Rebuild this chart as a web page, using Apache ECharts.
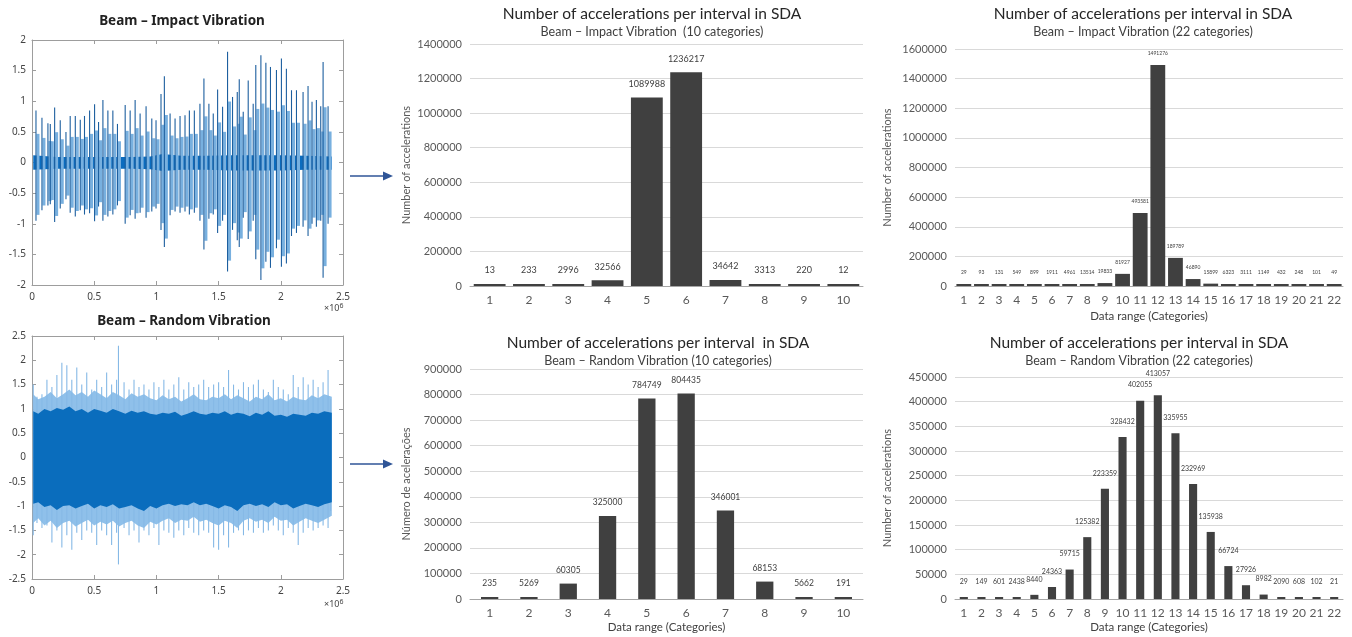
<!DOCTYPE html>
<html>
<head>
<meta charset="utf-8">
<script src="https://cdn.jsdelivr.net/npm/echarts@6/dist/echarts.min.js"></script>
<style>
  html, body { margin: 0; padding: 0; background: #ffffff; }
  #chart { width: 1352px; height: 637px; }
</style>
</head>
<body>
<div id="chart"></div>
<script>
// ---------- histogram data ----------
const cat10 = ['1', '2', '3', '4', '5', '6', '7', '8', '9', '10'];
const cat22 = ['1', '2', '3', '4', '5', '6', '7', '8', '9', '10', '11', '12', '13', '14', '15', '16', '17', '18', '19', '20', '21', '22'];
const impact10 = [13, 233, 2996, 32566, 1089988, 1236217, 34642, 3313, 220, 12];
const random10 = [235, 5269, 60305, 325000, 784749, 804435, 346001, 68153, 5662, 191];
const impact22 = [29, 93, 131, 549, 899, 1911, 4961, 13514, 19833, 81927, 493581, 1491276, 189789, 46890, 15899, 6323, 3111, 1149, 432, 248, 101, 49];
const random22 = [29, 149, 601, 2438, 8440, 24363, 59715, 125382, 223359, 328432, 402055, 413057, 335955, 232969, 135938, 66724, 27926, 8982, 2090, 608, 102, 21];

// ---------- signal tick labels ----------
const timeTicks = [0, 0.5, 1, 1.5, 2, 2.5];

// ---------- impact vibration signal (samples x 10^6, acceleration) ----------
// impact instants with the positive and negative extremes of each hit
const impactT = [0.032, 0.080, 0.128, 0.147, 0.182, 0.227, 0.273, 0.307, 0.348, 0.388, 0.422, 0.463, 0.503, 0.535, 0.570, 0.610,
  0.650, 0.687, 0.749, 0.789, 0.829, 0.869, 0.917, 0.963, 0.997, 1.037, 1.064, 1.110, 1.150, 1.190, 1.230, 1.265, 1.305, 1.350,
  1.382, 1.422, 1.457, 1.492, 1.532, 1.572, 1.612, 1.650, 1.666, 1.698, 1.738, 1.778, 1.799, 1.840, 1.880, 1.917, 1.965, 2.005,
  2.045, 2.086, 2.126, 2.179, 2.219, 2.251, 2.286, 2.321, 2.340, 2.380];
const impactHi = [0.85, 0.73, 0.64, 0.63, 0.90, 0.69, 0.50, 0.76, 0.76, 0.70, 0.76, 0.85, 0.95, 0.66, 1.02, 0.85,
  0.85, 0.63, 0.94, 0.85, 1.02, 0.80, 0.92, 0.72, 0.69, 1.12, 1.41, 0.80, 0.72, 0.76, 0.77, 0.85, 0.85, 0.96,
  1.37, 0.96, 0.80, 1.19, 0.91, 1.81, 1.07, 1.15, 1.36, 0.83, 1.34, 0.96, 1.59, 1.75, 1.63, 1.56, 1.51, 1.70,
  1.53, 1.18, 1.18, 1.15, 1.25, 0.99, 1.02, 0.92, 1.64, 0.92];
const impactLo = [-0.95, -0.78, -0.70, -0.68, -0.97, -0.75, -0.60, -0.82, -0.88, -0.78, -0.85, -0.83, -0.96, -0.72, -0.95, -0.88,
  -0.85, -0.70, -1.00, -0.86, -0.92, -0.82, -0.90, -0.80, -0.75, -1.10, -1.38, -0.86, -0.80, -0.82, -0.80, -0.85, -0.82, -0.95,
  -1.42, -0.92, -0.85, -1.15, -0.95, -1.78, -1.10, -1.27, -1.38, -0.90, -1.25, -0.95, -1.58, -1.92, -1.62, -1.72, -1.40, -1.70,
  -1.65, -1.20, -1.15, -1.05, -1.20, -1.00, -1.05, -0.95, -1.88, -1.00];
// background vibration band around zero
const impactBandT = [0.01, 0.2, 0.4, 0.6, 0.8, 0.95, 1.05, 1.2, 1.4, 1.6, 1.8, 2.0, 2.2, 2.41];
const impactBandHi = [0.12, 0.09, 0.09, 0.09, 0.09, 0.10, 0.14, 0.11, 0.11, 0.12, 0.12, 0.12, 0.11, 0.10];
const impactBandLo = [-0.12, -0.10, -0.10, -0.10, -0.10, -0.11, -0.14, -0.12, -0.12, -0.13, -0.13, -0.13, -0.12, -0.12];

// ---------- random vibration signal ----------
const randBandT = [0.01, 0.05, 0.10, 0.15, 0.20, 0.25, 0.30, 0.35, 0.40, 0.45, 0.50, 0.55, 0.60, 0.65, 0.70, 0.75, 0.80, 0.85,
  0.90, 0.95, 1.00, 1.05, 1.10, 1.15, 1.20, 1.25, 1.30, 1.35, 1.40, 1.45, 1.50, 1.55, 1.60, 1.65, 1.70, 1.75, 1.80, 1.85, 1.90,
  1.95, 2.00, 2.05, 2.10, 2.15, 2.20, 2.25, 2.30, 2.35, 2.41];
const randOuterHi = [1.30, 1.20, 1.25, 1.35, 1.22, 1.30, 1.40, 1.28, 1.35, 1.25, 1.38, 1.30, 1.22, 1.35, 1.28, 1.20, 1.32, 1.25,
  1.30, 1.22, 1.18, 1.28, 1.20, 1.25, 1.15, 1.22, 1.30, 1.20, 1.18, 1.25, 1.22, 1.30, 1.20, 1.28, 1.22, 1.15, 1.25, 1.20, 1.30,
  1.18, 1.22, 1.15, 1.25, 1.20, 1.18, 1.28, 1.22, 1.30, 1.25];
const randOuterLo = [-1.35, -1.25, -1.40, -1.30, -1.45, -1.35, -1.30, -1.42, -1.35, -1.28, -1.40, -1.32, -1.38, -1.30, -1.42, -1.35, -1.30, -1.40,
  -1.45, -1.32, -1.38, -1.30, -1.25, -1.35, -1.28, -1.30, -1.22, -1.32, -1.28, -1.35, -1.40, -1.30, -1.35, -1.45, -1.30, -1.25, -1.32, -1.28, -1.35,
  -1.22, -1.30, -1.28, -1.40, -1.32, -1.25, -1.30, -1.35, -1.28, -1.20];
const randCoreHi = [0.95, 0.90, 1.00, 0.95, 1.02, 0.98, 1.05, 0.95, 1.00, 0.92, 1.00, 0.96, 0.92, 1.00, 0.95, 0.90, 0.96, 0.92,
  0.95, 0.90, 0.88, 0.92, 0.90, 0.94, 0.86, 0.90, 0.95, 0.90, 0.88, 0.92, 0.90, 0.95, 0.88, 0.92, 0.90, 0.85, 0.92, 0.88, 0.95,
  0.86, 0.88, 0.84, 0.90, 0.88, 0.86, 0.92, 0.90, 0.95, 0.92];
const randCoreLo = [-0.95, -0.92, -1.02, -0.98, -1.08, -1.00, -0.98, -1.05, -1.00, -0.95, -1.05, -0.98, -1.02, -0.96, -1.05, -1.02, -0.98, -1.05,
  -1.10, -1.00, -1.05, -0.98, -0.95, -1.00, -0.96, -0.98, -0.92, -0.98, -0.95, -1.00, -1.05, -0.98, -1.02, -1.10, -0.98, -0.95, -1.00, -0.96, -1.02,
  -0.92, -0.98, -0.96, -1.05, -1.00, -0.95, -0.98, -1.02, -0.96, -0.92];
// occasional large excursions
const randPeakT = [0.01, 0.04, 0.08, 0.12, 0.16, 0.20, 0.24, 0.28, 0.32, 0.36, 0.40, 0.44, 0.48, 0.52, 0.56, 0.60, 0.64, 0.68, 0.695,
  0.74, 0.78, 0.82, 0.86, 0.90, 0.94, 0.98, 1.02, 1.06, 1.10, 1.14, 1.18, 1.22, 1.26, 1.30, 1.34, 1.38, 1.42, 1.46, 1.50, 1.54,
  1.58, 1.62, 1.66, 1.70, 1.74, 1.78, 1.82, 1.86, 1.90, 1.94, 1.98, 2.02, 2.06, 2.10, 2.14, 2.18, 2.22, 2.26, 2.30, 2.34, 2.38, 2.40];
const randPeakHi = [1.50, 1.25, 1.30, 1.60, 1.45, 1.70, 1.95, 1.90, 1.60, 1.85, 1.50, 1.75, 1.40, 1.60, 1.45, 1.75, 1.50, 1.60, 2.30,
  1.55, 1.40, 1.60, 1.45, 1.50, 1.40, 1.55, 1.45, 1.60, 1.40, 1.50, 1.65, 1.40, 1.55, 1.45, 1.50, 1.60, 1.45, 1.50, 1.55, 1.45,
  1.80, 1.50, 1.40, 1.55, 1.45, 1.50, 1.60, 1.40, 1.35, 1.60, 1.45, 1.40, 1.30, 1.70, 1.45, 1.65, 1.50, 1.60, 1.45, 1.55, 1.80, 1.20];
const randPeakLo = [-1.60, -1.35, -1.45, -1.40, -1.75, -1.50, -1.85, -1.60, -1.90, -1.55, -1.70, -1.50, -1.55, -1.80, -1.50, -1.60, -1.80, -1.55, -2.20,
  -1.45, -1.60, -1.50, -1.75, -1.50, -1.60, -1.45, -1.80, -1.50, -1.55, -1.65, -1.50, -1.60, -1.45, -1.55, -1.60, -1.50, -1.55, -1.85, -1.90, -1.60,
  -1.85, -1.55, -1.50, -1.60, -1.50, -1.55, -1.45, -1.55, -1.50, -1.40, -1.50, -1.60, -1.45, -1.55, -1.80, -1.55, -1.45, -1.50, -1.45, -1.40, -1.45, -1.10];

// ---------- styling helpers ----------
const FONT = 'Lato, "Noto Sans", sans-serif';
const SIG_FONT = '"Noto Sans", "DejaVu Sans", sans-serif';
const BAR_COLOR = '#404040';
const GRID_COLOR = '#d9d9d9';
const TXT = '#595959';
const FRAME = '#9d9d9d';

function sigXAxis(gi, pos) {
  const bottom = pos === 'bottom';
  return {
    type: 'value', gridIndex: gi, position: pos, min: 0, max: 2.5, interval: 0.5,
    axisLine: { show: true, onZero: false, lineStyle: { color: FRAME } },
    axisTick: { show: true, inside: true, length: 4, lineStyle: { color: FRAME } },
    axisLabel: {
      show: bottom, color: '#444', fontSize: 10, margin: 7, fontFamily: SIG_FONT,
      customValues: timeTicks, formatter: v => String(v)
    },
    splitLine: { show: false }
  };
}
function sigYAxis(gi, pos, lim) {
  const left = pos === 'left';
  return {
    type: 'value', gridIndex: gi, position: pos, min: -lim, max: lim, interval: 0.5,
    axisLine: { show: true, onZero: false, lineStyle: { color: FRAME } },
    axisTick: { show: true, inside: true, length: 4, lineStyle: { color: FRAME } },
    axisLabel: { show: left, color: '#444', fontSize: 10, margin: 6, fontFamily: SIG_FONT, formatter: v => String(v) },
    splitLine: { show: false }
  };
}
function catAxis(gi, data, name, nameGap) {
  return {
    type: 'category', gridIndex: gi, data: data,
    axisTick: { show: false },
    axisLine: { show: true, lineStyle: { color: '#a6a6a6' } },
    axisLabel: { color: TXT, fontSize: 12, margin: 8, fontFamily: FONT, interval: 0 },
    name: name || '', nameLocation: 'middle', nameGap: nameGap || 26,
    nameTextStyle: { color: '#404040', fontSize: 11.5, fontFamily: FONT }
  };
}
function valAxis(gi, max, interval, name, nameGap) {
  return {
    type: 'value', gridIndex: gi, min: 0, max: max, interval: interval,
    axisLine: { show: false }, axisTick: { show: false },
    axisLabel: { color: TXT, fontSize: 11, margin: 8, fontFamily: FONT, formatter: v => String(v) },
    splitLine: { show: true, lineStyle: { color: GRID_COLOR, width: 1 } },
    name: name, nameLocation: 'middle', nameGap: nameGap, nameRotate: 90,
    nameTextStyle: { color: TXT, fontSize: 11, fontFamily: FONT }
  };
}
function barSeries(xi, values, barWidth, labelSize, labelDist, raised) {
  const data = values.map((v, i) => (raised && raised[i]) ? { value: v, label: { distance: labelDist + raised[i] } } : v);
  return {
    type: 'bar', xAxisIndex: xi, yAxisIndex: xi, data: data, barWidth: barWidth, barMinHeight: 2,
    itemStyle: { color: BAR_COLOR },
    label: { show: true, position: 'top', distance: labelDist, fontSize: labelSize, color: '#404040', fontFamily: FONT },
    silent: true, animation: false
  };
}
// filled band between an upper and a lower envelope
function bandSeries(ai, T, hi, lo, color, z) {
  return {
    type: 'custom', xAxisIndex: ai, yAxisIndex: ai, data: [[T[0], hi[0]]], silent: true, z: z, animation: false,
    renderItem: (params, api) => {
      const pts = [];
      for (let i = 0; i < T.length; i++) pts.push(api.coord([T[i], hi[i]]));
      for (let i = T.length - 1; i >= 0; i--) pts.push(api.coord([T[i], lo[i]]));
      return { type: 'polygon', shape: { points: pts }, style: { fill: color } };
    }
  };
}
// vertical excursions (one per row: time, max, min)
function spikeSeries(ai, T, hi, lo, stroke, width, tail, z) {
  return {
    type: 'custom', xAxisIndex: ai, yAxisIndex: ai, silent: true, z: z, animation: false,
    data: T.map((t, i) => [t, hi[i], lo[i]]),
    encode: { x: 0, y: [1, 2] },
    renderItem: (params, api) => {
      const t = api.value(0);
      const a = api.coord([t, api.value(1)]);
      const b = api.coord([t, api.value(2)]);
      const children = [];
      if (tail) {
        const zero = api.coord([t, 0]);
        const y1 = zero[1] - (zero[1] - a[1]) * 0.55;
        const y2 = zero[1] + (b[1] - zero[1]) * 0.9;
        children.push({ type: 'rect', shape: { x: a[0] + 0.5, y: y1, width: 3, height: y2 - y1 }, style: { fill: tail } });
      }
      children.push({ type: 'line', shape: { x1: a[0], y1: a[1], x2: b[0], y2: b[1] }, style: { stroke: stroke, lineWidth: width } });
      return { type: 'group', children: children };
    }
  };
}

// ---------- layout ----------
const grids = [
  { left: 32, top: 40, width: 311, height: 245 },   // 0 impact signal
  { left: 32, top: 336, width: 311, height: 243 },  // 1 random signal
  { left: 470, top: 44, width: 393, height: 242 },  // 2 impact 10
  { left: 470, top: 369, width: 393, height: 230 }, // 3 random 10
  { left: 955, top: 49, width: 388, height: 237 },  // 4 impact 22
  { left: 955, top: 377, width: 388, height: 222 }  // 5 random 22
].map(g => Object.assign({ containLabel: false }, g));

// signal grids carry four axes each (bottom/top, left/right) for the framed box
const xAxes = [
  sigXAxis(0, 'bottom'), sigXAxis(1, 'bottom'),
  catAxis(2, cat10), catAxis(3, cat10, 'Data range (Categories)', 22),
  catAxis(4, cat22, 'Data range (Categories)', 24), catAxis(5, cat22, 'Data range (Categories)', 22),
  sigXAxis(0, 'top'), sigXAxis(1, 'top')
];
const yAxes = [
  sigYAxis(0, 'left', 2), sigYAxis(1, 'left', 2.5),
  valAxis(2, 1400000, 200000, 'Number of accelerations', 58),
  valAxis(3, 900000, 100000, 'Número de acelerações', 58),
  valAxis(4, 1600000, 200000, 'Number of accelerations', 62),
  valAxis(5, 450000, 50000, 'Number of accelerations', 62),
  sigYAxis(0, 'right', 2), sigYAxis(1, 'right', 2.5)
];

function chartTitle(text, sub, cx, top) {
  return {
    text: text, subtext: sub, left: cx, top: top, textAlign: 'center', itemGap: 3, padding: 0,
    textStyle: { fontSize: 15.5, fontWeight: 'normal', color: '#262626', fontFamily: FONT },
    subtextStyle: { fontSize: 12.5, color: '#404040', fontFamily: FONT }
  };
}
const titles = [
  { text: 'Beam – Impact Vibration', left: 182, top: 14, textAlign: 'center', padding: 0,
    textStyle: { fontSize: 13.5, fontWeight: 'bold', color: '#222', fontFamily: SIG_FONT } },
  { text: 'Beam – Random Vibration', left: 184, top: 314, textAlign: 'center', padding: 0,
    textStyle: { fontSize: 13.5, fontWeight: 'bold', color: '#222', fontFamily: SIG_FONT } },
  chartTitle('Number of accelerations per interval in SDA', 'Beam – Impact Vibration  (10 categories)', 652, 6),
  chartTitle('Number of accelerations per interval  in SDA', 'Beam – Random Vibration (10 categories)', 658, 335),
  chartTitle('Number of accelerations per interval in SDA', 'Beam – Impact Vibration (22 categories)', 1143, 6),
  chartTitle('Number of accelerations per interval in SDA', 'Beam – Random Vibration (22 categories)', 1139, 335)
];

function arrow(y) {
  return [
    { type: 'line', shape: { x1: 350, y1: y, x2: 384, y2: y }, style: { stroke: '#2f5597', lineWidth: 1.6 } },
    { type: 'polygon', shape: { points: [[393, y], [383, y - 4.5], [383, y + 4.5]] }, style: { fill: '#2f5597' } }
  ];
}
function exponent(x, y) {
  return {
    type: 'text', x: x, y: y,
    style: {
      text: '{b|×10}{s|6}', fill: '#444',
      rich: { b: { fontSize: 9, fontFamily: SIG_FONT, fill: '#444' }, s: { fontSize: 7, fontFamily: SIG_FONT, fill: '#444', verticalAlign: 'top', padding: [0, 0, 6, 0] } }
    }
  };
}

// extra lift for the tallest label of the 22-category random histogram
const random22Lift = { 11: 6 };

const option = {
  backgroundColor: '#ffffff',
  animation: false,
  title: titles,
  grid: grids,
  xAxis: xAxes,
  yAxis: yAxes,
  series: [
    // impact signal
    bandSeries(0, impactBandT, impactBandHi, impactBandLo, '#0b6cbf', 3),
    spikeSeries(0, impactT, impactHi, impactLo, '#1d5f9f', 1.1, '#78b0df', 4),
    // random signal
    bandSeries(1, randBandT, randOuterHi, randOuterLo, '#8fc0ea', 2),
    spikeSeries(1, randPeakT, randPeakHi, randPeakLo, '#86b9e6', 1.1, null, 3),
    bandSeries(1, randBandT, randCoreHi, randCoreLo, '#0a6dbd', 4),
    // histograms
    barSeries(2, impact10, '81%', 9, 9),
    barSeries(3, random10, '44%', 8.5, 9),
    barSeries(4, impact22, '84%', 5, 9),
    barSeries(5, random22, '46%', 7, 12, random22Lift)
  ],
  graphic: [].concat(arrow(176), arrow(464), [exponent(324, 302), exponent(324, 598)])
};

const chart = echarts.init(document.getElementById('chart'), null, { renderer: 'canvas' });
chart.setOption(option);
</script>
</body>
</html>
